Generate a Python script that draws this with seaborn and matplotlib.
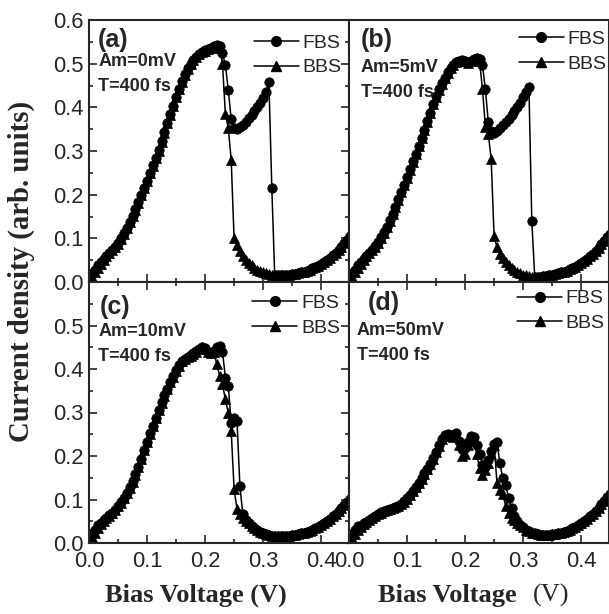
import numpy as np
import pandas as pd
import matplotlib
matplotlib.use("Agg")
import matplotlib.pyplot as plt
import seaborn as sns
from matplotlib.ticker import MultipleLocator
from matplotlib.lines import Line2D

# ---------------- data ----------------
voltage = np.linspace(0.0, 0.45, 91)

fbs_a = [0.005, 0.020, 0.028, 0.039, 0.045, 0.053, 0.060, 0.067, 0.074, 0.081,
         0.089, 0.100, 0.112, 0.124, 0.138, 0.152, 0.167, 0.183, 0.200, 0.216,
         0.232, 0.250, 0.267, 0.284, 0.302, 0.322, 0.343, 0.364, 0.384, 0.404,
         0.424, 0.443, 0.460, 0.476, 0.489, 0.500, 0.509, 0.516, 0.522, 0.527,
         0.531, 0.534, 0.537, 0.540, 0.542, 0.540, 0.525, 0.497, 0.440, 0.373,
         0.352, 0.350, 0.354, 0.360, 0.367, 0.375, 0.383, 0.392, 0.401, 0.411,
         0.422, 0.436, 0.457, 0.216, 0.016, 0.015, 0.015, 0.015, 0.016, 0.017,
         0.018, 0.019, 0.021, 0.022, 0.024, 0.026, 0.028, 0.031, 0.034, 0.037,
         0.041, 0.045, 0.050, 0.055, 0.061, 0.067, 0.074, 0.081, 0.089, 0.097,
         0.105]
bbs_a = [0.003, 0.012, 0.022, 0.032, 0.042, 0.051, 0.059, 0.066, 0.073, 0.080,
         0.088, 0.099, 0.111, 0.123, 0.137, 0.151, 0.166, 0.182, 0.199, 0.215,
         0.231, 0.249, 0.266, 0.283, 0.301, 0.321, 0.342, 0.363, 0.383, 0.403,
         0.423, 0.442, 0.459, 0.475, 0.488, 0.499, 0.508, 0.515, 0.521, 0.526,
         0.530, 0.533, 0.536, 0.539, 0.540, 0.535, 0.500, 0.385, 0.352, 0.280,
         0.100, 0.085, 0.070, 0.060, 0.051, 0.044, 0.038, 0.033, 0.028, 0.025,
         0.022, 0.020, 0.018, 0.016, 0.015, 0.015, 0.015, 0.015, 0.016, 0.017,
         0.018, 0.019, 0.021, 0.022, 0.024, 0.026, 0.028, 0.031, 0.034, 0.037,
         0.041, 0.045, 0.050, 0.055, 0.061, 0.067, 0.074, 0.081, 0.089, 0.097,
         0.105]
fbs_b = [0.005, 0.020, 0.028, 0.039, 0.045, 0.053, 0.060, 0.067, 0.074, 0.082,
         0.091, 0.102, 0.114, 0.127, 0.141, 0.156, 0.172, 0.189, 0.206, 0.223,
         0.240, 0.258, 0.276, 0.294, 0.312, 0.330, 0.348, 0.368, 0.388, 0.408,
         0.425, 0.441, 0.455, 0.468, 0.480, 0.490, 0.498, 0.504, 0.507, 0.508,
         0.506, 0.503, 0.506, 0.511, 0.513, 0.510, 0.497, 0.441, 0.367, 0.345,
         0.342, 0.346, 0.352, 0.359, 0.366, 0.374, 0.382, 0.391, 0.400, 0.411,
         0.423, 0.436, 0.447, 0.140, 0.012, 0.012, 0.012, 0.013, 0.014, 0.015,
         0.016, 0.018, 0.020, 0.022, 0.024, 0.026, 0.029, 0.032, 0.035, 0.039,
         0.043, 0.048, 0.053, 0.059, 0.065, 0.072, 0.079, 0.087, 0.095, 0.103,
         0.111]
bbs_b = [0.003, 0.012, 0.022, 0.032, 0.042, 0.051, 0.059, 0.066, 0.073, 0.081,
         0.090, 0.101, 0.113, 0.126, 0.140, 0.155, 0.171, 0.188, 0.205, 0.222,
         0.239, 0.257, 0.275, 0.293, 0.311, 0.329, 0.347, 0.367, 0.387, 0.407,
         0.424, 0.440, 0.454, 0.467, 0.479, 0.489, 0.497, 0.503, 0.506, 0.507,
         0.505, 0.502, 0.505, 0.510, 0.512, 0.505, 0.441, 0.356, 0.340, 0.281,
         0.105, 0.080, 0.065, 0.055, 0.046, 0.039, 0.033, 0.028, 0.024, 0.020,
         0.017, 0.015, 0.013, 0.012, 0.012, 0.012, 0.012, 0.013, 0.014, 0.015,
         0.016, 0.018, 0.020, 0.022, 0.024, 0.026, 0.029, 0.032, 0.035, 0.039,
         0.043, 0.048, 0.053, 0.059, 0.065, 0.072, 0.079, 0.087, 0.095, 0.103,
         0.111]
fbs_c = [0.005, 0.022, 0.031, 0.041, 0.046, 0.052, 0.058, 0.064, 0.070, 0.077,
         0.085, 0.094, 0.104, 0.115, 0.128, 0.142, 0.158, 0.175, 0.194, 0.214,
         0.233, 0.252, 0.270, 0.288, 0.306, 0.323, 0.340, 0.355, 0.370, 0.383,
         0.397, 0.409, 0.419, 0.424, 0.428, 0.432, 0.436, 0.441, 0.446, 0.451,
         0.448, 0.440, 0.437, 0.442, 0.450, 0.452, 0.440, 0.380, 0.362, 0.275,
         0.287, 0.281, 0.131, 0.067, 0.054, 0.045, 0.040, 0.035, 0.030, 0.026,
         0.023, 0.021, 0.019, 0.017, 0.016, 0.015, 0.015, 0.015, 0.016, 0.017,
         0.018, 0.019, 0.021, 0.022, 0.024, 0.026, 0.028, 0.031, 0.034, 0.037,
         0.041, 0.045, 0.050, 0.055, 0.061, 0.067, 0.074, 0.081, 0.088, 0.095,
         0.102]
bbs_c = [0.003, 0.014, 0.024, 0.034, 0.043, 0.051, 0.057, 0.063, 0.069, 0.076,
         0.084, 0.093, 0.103, 0.114, 0.127, 0.141, 0.157, 0.174, 0.193, 0.213,
         0.232, 0.251, 0.269, 0.287, 0.305, 0.322, 0.339, 0.354, 0.369, 0.382,
         0.396, 0.408, 0.418, 0.423, 0.427, 0.431, 0.435, 0.440, 0.445, 0.450,
         0.447, 0.439, 0.436, 0.440, 0.412, 0.385, 0.365, 0.330, 0.300, 0.258,
         0.124, 0.079, 0.066, 0.058, 0.051, 0.045, 0.040, 0.035, 0.030, 0.026,
         0.023, 0.021, 0.019, 0.017, 0.016, 0.015, 0.015, 0.015, 0.016, 0.017,
         0.018, 0.019, 0.021, 0.022, 0.024, 0.026, 0.028, 0.031, 0.034, 0.037,
         0.041, 0.045, 0.050, 0.055, 0.061, 0.067, 0.074, 0.081, 0.088, 0.095,
         0.102]
fbs_d = [0.005, 0.020, 0.030, 0.040, 0.040, 0.045, 0.049, 0.054, 0.058, 0.063,
         0.067, 0.071, 0.074, 0.077, 0.079, 0.081, 0.083, 0.086, 0.090, 0.096,
         0.103, 0.111, 0.120, 0.129, 0.139, 0.149, 0.160, 0.170, 0.182, 0.195,
         0.210, 0.225, 0.240, 0.248, 0.250, 0.248, 0.246, 0.253, 0.235, 0.215,
         0.218, 0.232, 0.246, 0.244, 0.225, 0.205, 0.180, 0.175, 0.190, 0.212,
         0.228, 0.232, 0.183, 0.150, 0.133, 0.104, 0.080, 0.062, 0.050, 0.042,
         0.036, 0.031, 0.027, 0.024, 0.022, 0.020, 0.019, 0.018, 0.018, 0.019,
         0.020, 0.021, 0.022, 0.024, 0.026, 0.028, 0.031, 0.034, 0.037, 0.041,
         0.045, 0.050, 0.055, 0.061, 0.067, 0.074, 0.081, 0.089, 0.097, 0.105,
         0.113]
bbs_d = [0.003, 0.012, 0.021, 0.029, 0.036, 0.043, 0.048, 0.053, 0.057, 0.062,
         0.066, 0.070, 0.073, 0.076, 0.078, 0.080, 0.082, 0.085, 0.089, 0.095,
         0.102, 0.110, 0.119, 0.128, 0.138, 0.148, 0.159, 0.169, 0.181, 0.194,
         0.209, 0.224, 0.238, 0.246, 0.248, 0.246, 0.244, 0.250, 0.225, 0.200,
         0.205, 0.225, 0.240, 0.235, 0.205, 0.172, 0.157, 0.168, 0.185, 0.205,
         0.225, 0.138, 0.122, 0.112, 0.085, 0.068, 0.057, 0.052, 0.047, 0.041,
         0.036, 0.031, 0.027, 0.024, 0.022, 0.020, 0.019, 0.018, 0.018, 0.019,
         0.020, 0.021, 0.022, 0.024, 0.026, 0.028, 0.031, 0.034, 0.037, 0.041,
         0.045, 0.050, 0.055, 0.061, 0.067, 0.074, 0.081, 0.089, 0.097, 0.105,
         0.113]

panel_tags = ["(a)", "(b)", "(c)", "(d)"]
amplitudes = ["Am=0mV", "Am=5mV", "Am=10mV", "Am=50mV"]
period_label = "T=400 fs"
series_names = ["FBS", "BBS"]
x_ticks = [0.0, 0.1, 0.2, 0.3, 0.4]
y_ticks = [0.0, 0.1, 0.2, 0.3, 0.4, 0.5, 0.6]

fbs_all = [fbs_a, fbs_b, fbs_c, fbs_d]
bbs_all = [bbs_a, bbs_b, bbs_c, bbs_d]

# ---------------- styling ----------------
sns.set_style("ticks")
plt.rcParams['font.family'] = ['Liberation Sans', 'DejaVu Sans']
plt.rcParams['axes.linewidth'] = 1.5

W, H = 609, 614
fig = plt.figure(figsize=(W / 100, H / 100), dpi=100)

def fpos(l, t, r, b):
    return [l / W, 1 - b / H, (r - l) / W, (b - t) / H]

positions = [fpos(89, 20, 349, 282), fpos(349, 20, 609, 282),
             fpos(89, 282, 349, 543), fpos(349, 282, 609, 543)]

tag_xy = [(0.035, 0.925), (0.045, 0.925), (0.042, 0.905), (0.072, 0.92)]
am_xy = [(0.035, 0.843), (0.045, 0.82), (0.035, 0.81), (0.03, 0.816)]
t_xy = [(0.035, 0.748), (0.045, 0.725), (0.035, 0.713), (0.03, 0.72)]
leg_anchor = [(0.972, 0.945), (0.99, 0.96), (0.965, 0.952), (0.984, 0.97)]

for i in range(4):
    row, col = divmod(i, 2)
    ax = fig.add_axes(positions[i])
    df = pd.DataFrame({
        "V": np.concatenate([voltage, voltage]),
        "J": np.concatenate([fbs_all[i], bbs_all[i]]),
        "scan": [series_names[0]] * len(voltage) + [series_names[1]] * len(voltage),
    })
    sns.lineplot(data=df, x="V", y="J", style="scan",
                 markers={"FBS": "o", "BBS": "^"}, dashes=False,
                 color="black", estimator=None, sort=False,
                 linewidth=1.1, markersize=6.8, markeredgecolor="black",
                 markeredgewidth=0.5, legend=False, ax=ax)
    ax.set_xlim(0.0, 0.448)
    ax.set_ylim(0.0, 0.6)
    ax.set_xlabel("")
    ax.set_ylabel("")
    ax.xaxis.set_minor_locator(MultipleLocator(0.05))
    ax.yaxis.set_minor_locator(MultipleLocator(0.05))
    ax.set_xticks(x_ticks)
    ylabels = ["%.1f" % v for v in y_ticks]
    if row == 1:
        ylabels[-1] = ""
    ax.set_yticks(y_ticks, ylabels)
    ax.set_xticklabels(["%.1f" % v for v in x_ticks])
    ax.tick_params(which="both", direction="in", bottom=True,
                   top=(row == 1), left=(col == 0), right=(col == 0),
                   labelbottom=(row == 1), labelleft=(col == 0),
                   labelsize=15.8, width=1.2)
    ax.tick_params(axis="x", pad=5.5)
    ax.tick_params(axis="y", pad=4)
    ax.tick_params(which="major", length=6)
    ax.tick_params(which="minor", length=3)
    for s in ax.spines.values():
        s.set_linewidth(1.5)

    ax.text(*tag_xy[i], panel_tags[i], transform=ax.transAxes, fontsize=18,
            fontweight="bold", ha="left", va="center")
    ax.text(*am_xy[i], amplitudes[i], transform=ax.transAxes, fontsize=13,
            fontweight="bold", ha="left", va="center")
    ax.text(*t_xy[i], period_label, transform=ax.transAxes, fontsize=13,
            fontweight="bold", ha="left", va="center")

    handles = [Line2D([], [], color="black", lw=1.1, marker="o", ms=7, label="FBS"),
               Line2D([], [], color="black", lw=1.1, marker="^", ms=7, label="BBS")]
    ax.legend(handles=handles, loc="upper right", bbox_to_anchor=leg_anchor[i],
              frameon=False, fontsize=14, handlelength=2.3, handletextpad=0.2,
              labelspacing=0.35, borderaxespad=0.0, borderpad=0.0)

serif = ['Liberation Serif', 'DejaVu Serif']
fig.text(21 / W, 1 - 271 / H, "Current density (arb. units)", rotation=90,
         ha="center", va="center", fontsize=20.8, fontweight="bold", family=serif)
fig.text(196 / W, 1 - 602 / H, "Bias Voltage (V)", ha="center", va="baseline",
         fontsize=19, fontweight="bold", family=serif)
fig.text(517 / W, 1 - 602 / H, "Bias Voltage", ha="right", va="baseline",
         fontsize=19, fontweight="bold", family=serif)
fig.text(533 / W, 1 - 602 / H, "(V)", ha="left", va="baseline",
         fontsize=19, family=serif)

fig.savefig("out.png", dpi=100)
